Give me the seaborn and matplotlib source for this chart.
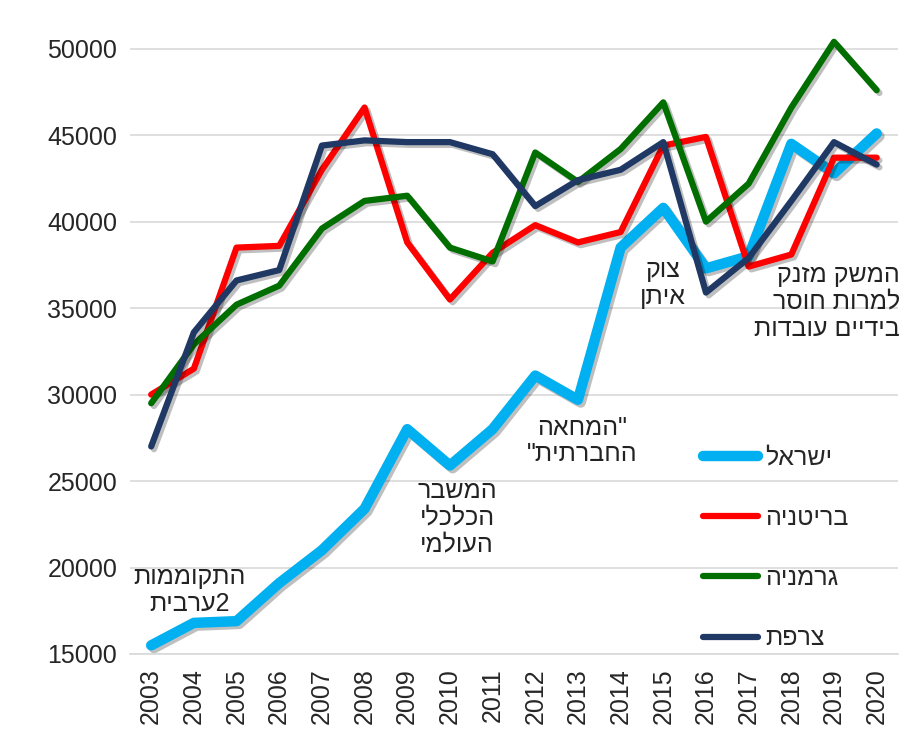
import pandas as pd
import seaborn as sns
import matplotlib.pyplot as plt
import matplotlib.patheffects as pe

# --- data ---
years = list(range(2003, 2021))
israel = [15500, 16800, 16900, 19100, 21000, 23400, 28000, 25900, 28000,
          31100, 29700, 38500, 40800, 37300, 38000, 44500, 42800, 45100]
britain = [30000, 31500, 38500, 38600, 43000, 46600, 38800, 35500, 38200,
           39800, 38800, 39400, 44400, 44900, 37400, 38100, 43700, 43700]
germany = [29500, 32900, 35200, 36300, 39600, 41200, 41500, 38500, 37700,
           44000, 42300, 44200, 46900, 40000, 42200, 46600, 50400, 47600]
france = [27000, 33600, 36600, 37200, 44400, 44700, 44600, 44600, 43900,
          40900, 42400, 43000, 44600, 35900, 37900, 41200, 44600, 43300]

# country names (logical Hebrew order)
names = ['ישראל', 'בריטניה', 'גרמניה', 'צרפת']
y_ticks = [15000, 20000, 25000, 30000, 35000, 40000, 45000, 50000]


def rtl(line):
    # matplotlib has no bidi support, so flip Hebrew lines to visual order
    return line[::-1]


# event notes: (year position, value position, lines)
notes = [
    (2003.9, 18650, [rtl('התקוממות'), rtl('ערבית') + '2'], 'center'),
    (2010.17, 22870, [rtl('המשבר'), rtl('הכלכלי'), rtl('העולמי')], 'center'),
    (2013.1, 27320, [rtl('"המחאה'), rtl('החברתית"')], 'center'),
    (2015.0, 36400, [rtl('צוק'), rtl('איתן')], 'center'),
    (2020.55, 35360, [rtl('המשק מזנק'), rtl('למרות חוסר'), rtl('בידיים עובדות')], 'right'),
]

colors = ['#00b0f0', '#ff0000', '#006f00', '#1f3864']
widths = [7.5, 4.5, 4.5, 4.5]

sns.set_style('white')
plt.rcParams['font.family'] = ['Liberation Sans', 'DejaVu Sans']

df = pd.DataFrame({'year': years, 'israel': israel, 'britain': britain,
                   'germany': germany, 'france': france})

fig = plt.figure(figsize=(9.08, 7.47), dpi=100)
ax = fig.add_axes([0.143, 0.1245, 0.846, 0.845])

shadow = [pe.SimpleLineShadow(offset=(2, -2), alpha=0.25, shadow_color='black'),
          pe.Normal()]

for col, name, c, w in zip(['israel', 'britain', 'germany', 'france'], names, colors, widths):
    sns.lineplot(data=df, x='year', y=col, ax=ax, color=c, linewidth=w,
                 label=rtl(name), solid_capstyle='round', path_effects=shadow)

ax.set_xlim(2002.5, 2020.5)
ax.set_ylim(15000, 51500)
ax.set_xticks(years)
ax.set_xticklabels([str(y) for y in years], rotation=90, fontsize=18)
ax.set_yticks(y_ticks)
ax.set_yticklabels([str(v) for v in y_ticks], fontsize=18)
ax.tick_params(axis='x', length=0, pad=10)
ax.tick_params(axis='y', length=0, pad=9)
ax.set_xlabel('')
ax.set_ylabel('')

ax.yaxis.grid(True, color='#d9d9d9', linewidth=1.2)
ax.set_axisbelow(True)
for side in ['top', 'right', 'left']:
    ax.spines[side].set_visible(False)
ax.spines['bottom'].set_color('#d9d9d9')
ax.spines['bottom'].set_linewidth(1.2)

for x, y, lines, ha in notes:
    ax.text(x, y, '\n'.join(lines), ha=ha, va='center', fontsize=18,
            multialignment=ha, linespacing=1.15, color='#222222')

leg = ax.legend(loc='upper left', bbox_to_anchor=(0.73, 0.35), frameon=False,
                fontsize=18, handlelength=2.2, handletextpad=0.3,
                labelspacing=1.45, borderpad=0)
for line in leg.get_lines():
    line.set_path_effects([])

fig.savefig('out.png', dpi=100)
plt.close(fig)
